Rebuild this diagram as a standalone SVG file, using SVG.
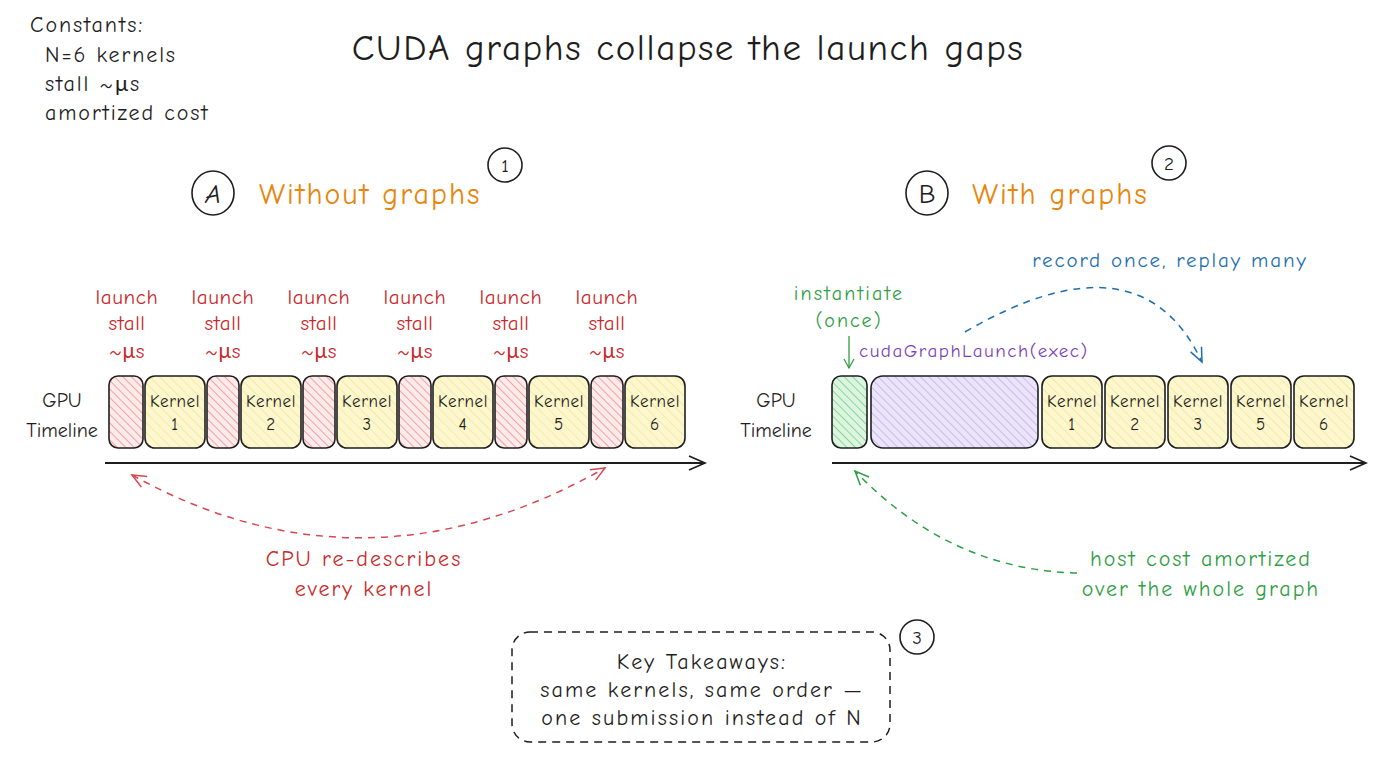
<svg xmlns="http://www.w3.org/2000/svg" width="1376" height="768" viewBox="0 0 1376 768">
<defs>
<pattern id="hRed" patternUnits="userSpaceOnUse" width="6" height="6" patternTransform="rotate(-45)"><rect width="6" height="6" fill="#fdeaea"/><line x1="0" y1="0" x2="0" y2="6" stroke="#f08c8c" stroke-width="1.5"/></pattern>
<pattern id="hYel" patternUnits="userSpaceOnUse" width="7" height="7" patternTransform="rotate(-45)"><rect width="7" height="7" fill="#fdf7cf"/><line x1="0" y1="0" x2="0" y2="7" stroke="#f1e38a" stroke-width="1.3"/></pattern>
<pattern id="hGrn" patternUnits="userSpaceOnUse" width="6" height="6" patternTransform="rotate(-45)"><rect width="6" height="6" fill="#dcf5df"/><line x1="0" y1="0" x2="0" y2="6" stroke="#74c98a" stroke-width="1.5"/></pattern>
<pattern id="hPur" patternUnits="userSpaceOnUse" width="6" height="6" patternTransform="rotate(-45)"><rect width="6" height="6" fill="#ece4fb"/><line x1="0" y1="0" x2="0" y2="6" stroke="#b9a2ea" stroke-width="1.3"/></pattern>
<marker id="arK" markerWidth="20" markerHeight="16" refX="18" refY="8" orient="auto" markerUnits="userSpaceOnUse"><path d="M2,1 L18,8 L2,15" fill="none" stroke="#1e1e1e" stroke-width="1.8"/></marker>
<marker id="arR" markerWidth="18" markerHeight="14" refX="16" refY="7" orient="auto" markerUnits="userSpaceOnUse"><path d="M2,1 L16,7 L2,13" fill="none" stroke="#d9484f" stroke-width="1.5"/></marker>
<marker id="arRs" markerWidth="18" markerHeight="14" refX="2" refY="7" orient="auto" markerUnits="userSpaceOnUse"><path d="M16,1 L2,7 L16,13" fill="none" stroke="#d9484f" stroke-width="1.5"/></marker>
<marker id="arB" markerWidth="18" markerHeight="14" refX="16" refY="7" orient="auto" markerUnits="userSpaceOnUse"><path d="M2,1 L16,7 L2,13" fill="none" stroke="#1f6fb0" stroke-width="1.5"/></marker>
<marker id="arG" markerWidth="18" markerHeight="14" refX="16" refY="7" orient="auto" markerUnits="userSpaceOnUse"><path d="M2,1 L16,7 L2,13" fill="none" stroke="#2f9e44" stroke-width="1.5"/></marker>
<marker id="arG2" markerWidth="12" markerHeight="12" refX="10" refY="6" orient="auto" markerUnits="userSpaceOnUse"><path d="M1,1 L10,6 L1,11" fill="none" stroke="#2f9e44" stroke-width="1.3"/></marker>
</defs>
<style>
text{font-family:"Comic Neue","Lato","Liberation Sans",sans-serif;fill:#1e1e1e}
.t{font-size:22px;letter-spacing:1.9px}
.gpu{font-size:20px;text-anchor:middle}
.red{fill:#c92a2a;font-size:21px;letter-spacing:0.6px;text-anchor:middle}
.k{font-size:17px;letter-spacing:0.6px;text-anchor:middle}
.stall{fill:url(#hRed);stroke:#1e1e1e;stroke-width:1.6}
.ker{fill:url(#hYel);stroke:#1e1e1e;stroke-width:1.6}
.ax{stroke:#1e1e1e;stroke-width:1.8;fill:none}
.circ{fill:none;stroke:#1e1e1e;stroke-width:1.6}
.sec{font-size:30px;letter-spacing:2px;fill:#e8850c}
.note{font-size:22px;letter-spacing:2px;text-anchor:middle}
.kt{font-size:22px;letter-spacing:2.1px;text-anchor:middle}
</style>
<rect width="1376" height="768" fill="#ffffff"/>

<g id="constants">
<text class="t" x="30" y="32">Constants:</text>
<text class="t" x="45" y="62">N=6 kernels</text>
<text class="t" x="45" y="91">stall ~μs</text>
<text class="t" x="45" y="120">amortized cost</text>
</g>

<g id="title"><text x="688" y="60" font-size="37" letter-spacing="1.6" text-anchor="middle">CUDA graphs collapse the launch gaps</text></g>

<g id="headerA">
<ellipse class="circ" cx="213" cy="193" rx="21" ry="22"/>
<text x="213" y="203" font-size="27" text-anchor="middle" font-style="italic">A</text>
<text class="sec" x="259" y="204">Without graphs</text>
<circle class="circ" cx="505" cy="165" r="17"/>
<text x="505" y="172" font-size="19" text-anchor="middle">1</text>
</g>
<g id="headerB">
<ellipse class="circ" cx="927" cy="193" rx="21" ry="22"/>
<text x="927" y="203" font-size="27" text-anchor="middle">B</text>
<text class="sec" x="972" y="204">With graphs</text>
<circle class="circ" cx="1169" cy="163" r="17"/>
<text x="1169" y="170" font-size="19" text-anchor="middle">2</text>
</g>

<g id="timelineA">
<text class="gpu" x="62" y="407">GPU</text>
<text class="gpu" x="62" y="437">Timeline</text>
<g id="stallLabels">
<text class="red" x="127" y="304">launch</text><text class="red" x="127" y="330">stall</text><text class="red" x="127" y="358">~μs</text>
<text class="red" x="223" y="304">launch</text><text class="red" x="223" y="330">stall</text><text class="red" x="223" y="358">~μs</text>
<text class="red" x="319" y="304">launch</text><text class="red" x="319" y="330">stall</text><text class="red" x="319" y="358">~μs</text>
<text class="red" x="415" y="304">launch</text><text class="red" x="415" y="330">stall</text><text class="red" x="415" y="358">~μs</text>
<text class="red" x="511" y="304">launch</text><text class="red" x="511" y="330">stall</text><text class="red" x="511" y="358">~μs</text>
<text class="red" x="607" y="304">launch</text><text class="red" x="607" y="330">stall</text><text class="red" x="607" y="358">~μs</text>
</g>
<g id="a-stall1"><rect class="stall" x="109" y="376" width="34" height="72" rx="9"/></g>
<g id="a-k1"><rect class="ker" x="145" y="376" width="60" height="72" rx="10"/><text class="k" x="175" y="407">Kernel</text><text class="k" x="175" y="430">1</text></g>
<g id="a-stall2"><rect class="stall" x="207" y="376" width="32" height="72" rx="9"/></g>
<g id="a-k2"><rect class="ker" x="241" y="376" width="60" height="72" rx="10"/><text class="k" x="271" y="407">Kernel</text><text class="k" x="271" y="430">2</text></g>
<g id="a-stall3"><rect class="stall" x="303" y="376" width="32" height="72" rx="9"/></g>
<g id="a-k3"><rect class="ker" x="337" y="376" width="60" height="72" rx="10"/><text class="k" x="367" y="407">Kernel</text><text class="k" x="367" y="430">3</text></g>
<g id="a-stall4"><rect class="stall" x="399" y="376" width="32" height="72" rx="9"/></g>
<g id="a-k4"><rect class="ker" x="433" y="376" width="60" height="72" rx="10"/><text class="k" x="463" y="407">Kernel</text><text class="k" x="463" y="430">4</text></g>
<g id="a-stall5"><rect class="stall" x="495" y="376" width="32" height="72" rx="9"/></g>
<g id="a-k5"><rect class="ker" x="529" y="376" width="60" height="72" rx="10"/><text class="k" x="559" y="407">Kernel</text><text class="k" x="559" y="430">5</text></g>
<g id="a-stall6"><rect class="stall" x="591" y="376" width="32" height="72" rx="9"/></g>
<g id="a-k6"><rect class="ker" x="625" y="376" width="60" height="72" rx="10"/><text class="k" x="655" y="407">Kernel</text><text class="k" x="655" y="430">6</text></g>
</g>

<g id="timelineB">
<text class="gpu" x="776" y="407">GPU</text>
<text class="gpu" x="776" y="437">Timeline</text>
<g id="b-inst"><rect x="832" y="376" width="35" height="72" rx="9" fill="url(#hGrn)" stroke="#1e1e1e" stroke-width="1.6"/></g>
<g id="b-launch"><rect x="871" y="376" width="167" height="72" rx="12" fill="url(#hPur)" stroke="#1e1e1e" stroke-width="1.6"/></g>
<g id="b-k1"><rect class="ker" x="1042" y="376" width="60" height="72" rx="10"/><text class="k" x="1072" y="407">Kernel</text><text class="k" x="1072" y="430">1</text></g>
<g id="b-k2"><rect class="ker" x="1105" y="376" width="60" height="72" rx="10"/><text class="k" x="1135" y="407">Kernel</text><text class="k" x="1135" y="430">2</text></g>
<g id="b-k3"><rect class="ker" x="1168" y="376" width="60" height="72" rx="10"/><text class="k" x="1198" y="407">Kernel</text><text class="k" x="1198" y="430">3</text></g>
<g id="b-k5"><rect class="ker" x="1231" y="376" width="60" height="72" rx="10"/><text class="k" x="1261" y="407">Kernel</text><text class="k" x="1261" y="430">5</text></g>
<g id="b-k6"><rect class="ker" x="1294" y="376" width="60" height="72" rx="10"/><text class="k" x="1324" y="407">Kernel</text><text class="k" x="1324" y="430">6</text></g>
<text x="849" y="300" font-size="20" letter-spacing="2.2" text-anchor="middle" style="fill:#2f9e44">instantiate</text>
<text x="849" y="327" font-size="20" letter-spacing="2" text-anchor="middle" style="fill:#2f9e44">(once)</text>
<text x="859" y="357" font-size="19" letter-spacing="1.5" style="fill:#7b3fb8">cudaGraphLaunch(exec)</text>
<text x="1170" y="267" font-size="21" letter-spacing="1.9" text-anchor="middle" style="fill:#1f6fb0">record once, replay many</text>
</g>

<g id="connectors">
<line class="ax" x1="105" y1="463" x2="705" y2="463" marker-end="url(#arK)"/>
<line class="ax" x1="832" y1="463" x2="1366" y2="463" marker-end="url(#arK)"/>
<path d="M132,475 Q365,604 605,468" fill="none" stroke="#d9484f" stroke-width="1.5" stroke-dasharray="7,6" marker-start="url(#arRs)" marker-end="url(#arR)"/>
<path d="M965,332 Q1140,230 1202,362" fill="none" stroke="#1f6fb0" stroke-width="1.5" stroke-dasharray="7,6" marker-end="url(#arB)"/>
<path d="M1077,573 Q950,570 855,471" fill="none" stroke="#2f9e44" stroke-width="1.5" stroke-dasharray="7,6" marker-end="url(#arG)"/>
<line x1="849" y1="336" x2="849" y2="368" stroke="#2f9e44" stroke-width="1.3" marker-end="url(#arG2)"/>
</g>

<g id="notes">
<text class="note" x="364" y="566" style="fill:#c92a2a">CPU re-describes</text>
<text class="note" x="364" y="596" style="fill:#c92a2a">every kernel</text>
<text class="note" x="1201" y="566" style="fill:#2f9e44">host cost amortized</text>
<text class="note" x="1201" y="596" style="fill:#2f9e44">over the whole graph</text>
</g>

<g id="takeaways">
<rect x="512" y="632" width="378" height="110" rx="18" fill="none" stroke="#1e1e1e" stroke-width="1.5" stroke-dasharray="8,6"/>
<text class="kt" x="702" y="669">Key Takeaways:</text>
<text class="kt" x="702" y="697">same kernels, same order —</text>
<text class="kt" x="702" y="725">one submission instead of N</text>
<circle class="circ" cx="917" cy="637" r="17"/>
<text x="917" y="644" font-size="19" text-anchor="middle">3</text>
</g>
</svg>
